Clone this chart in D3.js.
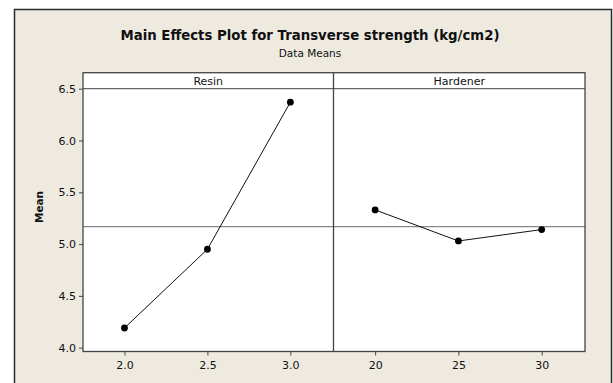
<!DOCTYPE html>
<html>
<head>
<meta charset="utf-8">
<script src="https://cdn.jsdelivr.net/npm/d3@7"></script>
<style>
  body { margin: 0; background: #fff; }
  text { font-family: "DejaVu Sans", sans-serif; fill: #111; }
</style>
</head>
<body>
<div id="chart"></div>
<script>
var resinLevels = [2.0, 2.5, 3.0];
var resinMeans = [4.19, 4.95, 6.37];
var hardenerLevels = [20, 25, 30];
var hardenerMeans = [5.33, 5.03, 5.14];
var yTicks = [4.0, 4.5, 5.0, 5.5, 6.0, 6.5];
var panelNames = ['Resin', 'Hardener'];

var W = 613, H = 383;
var plot = {left: 83, right: 585, top: 88.7, bottom: 351.5, stripTop: 72.7};
var divider = 333.5;

var svg = d3.select('#chart')
    .append('svg')
        .attr('width', W)
        .attr('height', H);

// outer frame
svg.append('rect')
    .attr('x', 14.5).attr('y', 9.5)
    .attr('width', 597).attr('height', 390)
    .attr('fill', '#eeeae0')
    .attr('stroke', '#2a2a2a')
    .attr('stroke-width', 1.5);

svg.append('text')
    .attr('x', 310).attr('y', 40)
    .attr('text-anchor', 'middle')
    .style('font-size', '13.3px')
    .style('font-weight', 'bold')
    .text('Main Effects Plot for Transverse strength (kg/cm2)');

svg.append('text')
    .attr('x', 310).attr('y', 57)
    .attr('text-anchor', 'middle')
    .style('font-size', '10.5px')
    .text('Data Means');

const y = d3.scaleLinear()
    .domain([6.5, 3.963])
    .range([plot.top, plot.bottom]);

const xResin = d3.scaleLinear()
    .domain([1.75, 3.26])
    .range([plot.left, divider]);

const xHard = d3.scaleLinear()
    .domain([17.5, 32.6])
    .range([divider, plot.right]);

// plot area + strip
svg.append('rect')
    .attr('x', plot.left).attr('y', plot.stripTop)
    .attr('width', plot.right - plot.left)
    .attr('height', plot.bottom - plot.stripTop)
    .attr('fill', '#fff');

svg.append('line')
    .attr('x1', plot.left).attr('x2', plot.right)
    .attr('y1', plot.top).attr('y2', plot.top)
    .attr('stroke', '#666').attr('stroke-width', 1.3);

// strip labels
[[plot.left, divider], [divider, plot.right]].forEach((p, i) => {
    svg.append('text')
        .attr('x', (p[0] + p[1]) / 2)
        .attr('y', 85)
        .attr('text-anchor', 'middle')
        .style('font-size', '11px')
        .text(panelNames[i]);
});

// grand mean reference line
var grandMean = d3.mean(resinMeans.concat(hardenerMeans));
svg.append('line')
    .attr('x1', plot.left).attr('x2', plot.right)
    .attr('y1', y(grandMean)).attr('y2', y(grandMean))
    .attr('stroke', '#888').attr('stroke-width', 1.2);

// axes
const yAxis = d3.axisLeft(y)
    .tickValues(yTicks)
    .tickSize(4)
    .tickFormat(d3.format('.1f'));

svg.append('g')
    .attr('class', 'y-axis')
    .attr('transform', 'translate(' + plot.left + ',0)')
    .call(yAxis);

svg.append('g')
    .attr('class', 'x-axis')
    .attr('transform', 'translate(0,' + plot.bottom + ')')
    .call(d3.axisBottom(xResin).tickValues(resinLevels).tickSize(4).tickFormat(d3.format('.1f')));

svg.append('g')
    .attr('class', 'x-axis')
    .attr('transform', 'translate(0,' + plot.bottom + ')')
    .call(d3.axisBottom(xHard).tickValues(hardenerLevels).tickSize(4).tickFormat(d3.format('d')));

svg.selectAll('.domain').remove();
svg.selectAll('.tick line').attr('stroke', '#444');
svg.selectAll('.tick text')
    .style('font-size', '11px')
    .style('font-family', '"DejaVu Sans", sans-serif')
    .attr('fill', '#111');
svg.selectAll('.x-axis .tick text').attr('dy', '0.95em');

// panel borders
svg.append('rect')
    .attr('x', plot.left).attr('y', plot.stripTop)
    .attr('width', plot.right - plot.left)
    .attr('height', plot.bottom - plot.stripTop)
    .attr('fill', 'none')
    .attr('stroke', '#444').attr('stroke-width', 1.3);

svg.append('line')
    .attr('x1', divider).attr('x2', divider)
    .attr('y1', plot.stripTop).attr('y2', plot.bottom)
    .attr('stroke', '#444').attr('stroke-width', 1.3);

svg.append('text')
    .attr('transform', 'translate(43,207) rotate(-90)')
    .attr('text-anchor', 'middle')
    .style('font-size', '10.5px')
    .style('font-weight', 'bold')
    .text('Mean');

// series
function drawSeries(levels, means, x) {
    const data = levels.map((l, i) => ({level: l, value: means[i]}));
    const line = d3.line()
        .x(d => x(d.level))
        .y(d => y(d.value));
    svg.append('path')
        .datum(data)
        .attr('d', line)
        .attr('fill', 'none')
        .attr('stroke', '#111')
        .attr('stroke-width', 1);
    svg.append('g')
        .selectAll('circle')
        .data(data)
        .enter()
        .append('circle')
        .attr('cx', d => x(d.level))
        .attr('cy', d => y(d.value))
        .attr('r', 3.4)
        .style('fill', '#000');
}

drawSeries(resinLevels, resinMeans, xResin);
drawSeries(hardenerLevels, hardenerMeans, xHard);
</script>
</body>
</html>
